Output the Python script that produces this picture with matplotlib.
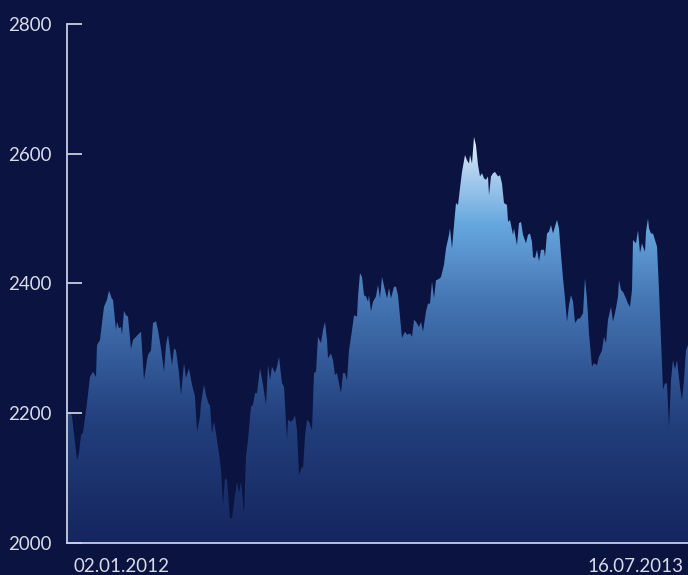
import numpy as np
import matplotlib
matplotlib.use("Agg")
from matplotlib import pyplot as plt
from matplotlib.colors import LinearSegmentedColormap

# time axis: session index, value: index level
day = [
    0, 3, 5, 10, 12, 14, 16, 20, 23, 26, 29, 30, 33, 35, 37, 40, 42, 45, 46, 49,
    50, 52, 54, 55, 57, 59, 61, 64, 66, 69, 71, 74, 77, 80, 81, 84, 86, 89, 91, 94,
    97, 99, 101, 105, 107, 109, 112, 114, 117, 119, 122, 125, 128, 130, 133, 134, 137, 139, 142, 143,
    145, 147, 149, 152, 154, 156, 158, 160, 163, 165, 168, 170, 172, 174, 177, 179, 181, 184, 186, 188,
    190, 193, 196, 199, 201, 203, 205, 208, 210, 212, 215, 217, 220, 221, 224, 226, 228, 230, 232, 235,
    236, 238, 240, 242, 245, 247, 249, 251, 254, 256, 258, 260, 261, 264, 266, 268, 270, 272, 274, 276,
    278, 280, 282, 285, 287, 290, 291, 293, 295, 297, 299, 301, 302, 304, 306, 309, 311, 313, 315, 318,
    320, 322, 324, 327, 329, 331, 333, 335, 338, 340, 343, 345, 347, 349, 352, 354, 356, 359, 361, 363,
    365, 367, 369, 372, 374, 377, 379, 382, 383, 385, 387, 389, 391, 393, 395, 398, 400, 402, 403, 405,
    407, 409, 411, 413, 415, 417, 419, 421, 422, 424, 426, 428, 431, 433, 435, 437, 440, 441, 443, 446,
    447, 450, 452, 454, 456, 459, 461, 463, 465, 466, 468, 470, 472, 474, 477, 478, 480, 482, 484, 486,
    488, 490, 492, 494, 496, 498, 500, 502, 504, 506, 508, 511, 513, 516, 518, 520, 522, 525, 527, 530,
    532, 535, 537, 539, 541, 544, 546, 549, 551, 552, 554, 556, 559, 561, 563, 565, 566, 569, 571, 573,
    575, 576, 578, 579, 581, 582, 584, 586, 588, 590, 592, 594, 596, 598, 600, 602, 604, 606, 608, 610,
    613, 615, 617, 619, 621,
]
value = [
    2200, 2202, 2195, 2128, 2139, 2166, 2170, 2216, 2256, 2264, 2256, 2305, 2313, 2339, 2364, 2375, 2389, 2376, 2375, 2328,
    2341, 2331, 2333, 2321, 2358, 2351, 2349, 2299, 2313, 2318, 2321, 2326, 2251, 2282, 2290, 2297, 2339, 2342, 2328, 2300,
    2264, 2305, 2321, 2274, 2300, 2297, 2262, 2228, 2277, 2254, 2269, 2244, 2226, 2172, 2195, 2215, 2244, 2228, 2213, 2213,
    2169, 2187, 2169, 2138, 2113, 2059, 2100, 2097, 2038, 2038, 2074, 2094, 2077, 2094, 2046, 2133, 2159, 2210, 2213, 2231,
    2231, 2269, 2244, 2213, 2274, 2251, 2272, 2262, 2272, 2287, 2246, 2241, 2159, 2190, 2187, 2190, 2197, 2174, 2105, 2118,
    2115, 2164, 2190, 2187, 2174, 2262, 2264, 2318, 2308, 2328, 2341, 2313, 2285, 2292, 2282, 2259, 2262, 2246, 2231, 2262,
    2262, 2251, 2297, 2328, 2351, 2349, 2380, 2416, 2410, 2382, 2380, 2372, 2382, 2357, 2372, 2380, 2398, 2377, 2410, 2390,
    2377, 2393, 2377, 2395, 2395, 2382, 2349, 2316, 2326, 2321, 2323, 2318, 2344, 2341, 2333, 2341, 2326, 2357, 2369, 2369,
    2403, 2377, 2405, 2407, 2410, 2429, 2454, 2475, 2485, 2454, 2490, 2524, 2521, 2547, 2572, 2598, 2590, 2585, 2598, 2585,
    2626, 2613, 2583, 2565, 2570, 2562, 2560, 2565, 2536, 2565, 2570, 2572, 2565, 2567, 2554, 2524, 2521, 2495, 2498, 2475,
    2485, 2459, 2493, 2495, 2475, 2462, 2475, 2477, 2464, 2441, 2439, 2452, 2434, 2452, 2452, 2441, 2477, 2480, 2490, 2477,
    2488, 2498, 2485, 2444, 2408, 2377, 2341, 2367, 2382, 2372, 2339, 2346, 2346, 2354, 2408, 2375, 2323, 2272, 2277, 2274,
    2287, 2297, 2318, 2308, 2344, 2364, 2341, 2362, 2380, 2405, 2390, 2387, 2377, 2369, 2364, 2390, 2467, 2462, 2482, 2447,
    2462, 2457, 2449, 2480, 2500, 2485, 2477, 2477, 2467, 2457, 2390, 2313, 2236, 2246, 2246, 2179, 2251, 2282, 2267, 2282,
    2241, 2220, 2251, 2297, 2305,
]

y_ticks = [2000, 2200, 2400, 2600, 2800]
x_label_pos = [55, 568]
x_labels = ["02.01.2012", "16.07.2013"]

bg = "#0b1340"
axis_col = "#c9cfe0"
text_col = "#d7dbe8"

plt.rcParams["font.family"] = ["Lato", "DejaVu Sans"]

fig = plt.figure(figsize=(6.88, 5.75), dpi=100, facecolor=bg)
ax = fig.add_axes([67 / 688, 32 / 575, 621 / 688, 519 / 575])
ax.set_facecolor(bg)

cmap = LinearSegmentedColormap.from_list(
    "area",
    [
        (0.0, "#15255f"),
        (0.3, "#22407d"),
        (0.6, "#4677b5"),
        (0.78, "#66a7de"),
        (0.9, "#a9cdee"),
        (1.0, "#e8f1fa"),
    ],
)

area = ax.fill_between(day, value, 2000, facecolor="none", linewidth=0)
grad = np.linspace(2000, 2630, 256).reshape(-1, 1)
im = ax.imshow(
    grad,
    extent=[day[0], day[-1], 2000, 2630],
    origin="lower",
    aspect="auto",
    cmap=cmap,
    vmin=2000,
    vmax=2630,
    interpolation="bicubic",
)
im.set_clip_path(area.get_paths()[0], transform=ax.transData)

ax.set_xlim(day[0], day[-1])
ax.set_ylim(2000, 2800)

for side in ["top", "right"]:
    ax.spines[side].set_visible(False)
for side in ["left", "bottom"]:
    ax.spines[side].set_color(axis_col)
    ax.spines[side].set_linewidth(1.3)

ax.set_yticks(y_ticks)
ax.set_yticklabels([str(t) for t in y_ticks])
ax.tick_params(axis="y", direction="in", length=11, width=1.3, color=axis_col,
               pad=11, labelsize=13.5, labelcolor=text_col)
ax.set_xticks(x_label_pos)
ax.set_xticklabels(x_labels)
ax.tick_params(axis="x", length=0, pad=11, labelsize=13.5, labelcolor=text_col)

fig.savefig("out.png", dpi=100, facecolor=bg)
